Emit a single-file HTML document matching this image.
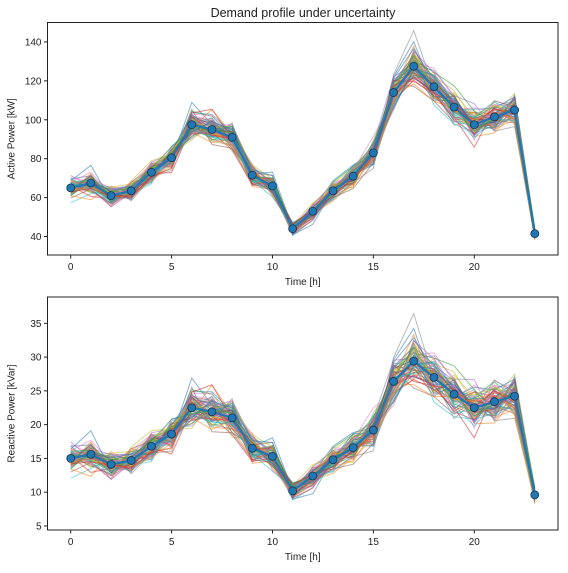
<!DOCTYPE html>
<html><head><meta charset="utf-8">
<style>
body{margin:0;background:#fff;}
svg text{font-family:"Liberation Sans","DejaVu Sans",sans-serif;fill:#222;}
</style></head>
<body>
<svg id="c" width="568" height="568" viewBox="0 0 568 568" xmlns="http://www.w3.org/2000/svg">
<text x="303" y="17" font-size="12.5" text-anchor="middle">Demand profile under uncertainty</text>
</svg>
<script>
const hours=[0,1,2,3,4,5,6,7,8,9,10,11,12,13,14,15,16,17,18,19,20,21,22,23];
const activeMean=[65,67.5,61,63.5,73,80.5,97.5,95,91,71.5,66,44,53,63.5,71,83,114,127.5,117,106.5,97.5,101.5,105,41.5];
const reactiveMean=[15,15.6,14.1,14.7,16.8,18.6,22.5,21.9,21.0,16.5,15.3,10.2,12.4,14.8,16.6,19.2,26.4,29.4,27,24.5,22.5,23.4,24.2,9.6];
const activeTicks=[40,60,80,100,120,140];
const reactiveTicks=[5,10,15,20,25,30,35];
const xTicks=[0,5,10,15,20];
const offsets=[
[0.8,0.6,-0.3,0.2,0.5,-0.4,0.7,0.9,0.3,-0.5,0.2,0.6,-0.2,0.4,0.1,-0.6,0.8,1.1,-0.3,0.2,0.5,-0.4,0.6,0.3],
[-0.6,0.2,0.5,-0.7,-0.2,0.6,-0.5,-0.3,0.8,0.4,-0.6,-0.2,0.5,-0.3,0.6,0.3,-0.4,-0.6,0.7,-0.5,-0.3,0.4,-0.2,-0.5],
[0.3,-0.8,0.2,0.6,-0.5,0.1,0.4,-0.6,-0.2,0.7,0.3,-0.5,-0.6,0.2,-0.4,0.5,0.2,0.4,-0.5,0.6,-0.2,-0.6,0.3,0.4],
[-0.2,0.5,-0.6,-0.1,0.7,-0.7,0.2,0.5,-0.5,-0.2,0.6,0.3,0.2,-0.6,0.3,-0.2,0.6,-0.3,0.2,-0.6,0.7,0.2,-0.5,-0.3],
[1.1,-0.3,0.7,0.4,-0.8,0.4,-0.8,0.2,0.6,-0.4,-0.2,0.8,-0.4,0.6,-0.7,0.7,-0.6,0.7,0.4,0.3,-0.6,0.6,0.5,0.1],
[-0.9,-0.5,-1.0,0.8,0.3,-0.3,0.9,-0.9,-0.7,0.2,0.9,-0.7,0.7,-0.5,0.5,-0.5,0.4,-0.9,-0.7,-0.8,0.3,-0.2,-0.7,0.6],
[0.5,0.9,0.1,-0.5,0.1,0.8,-0.3,0.1,0.1,0.9,-0.9,0.2,-0.8,0.8,-0.1,0.2,-0.9,0.2,0.9,0.5,-0.9,0.9,0.2,-0.6],
[-0.4,-0.1,0.8,-0.9,-0.4,-0.9,0.5,-0.4,0.9,-0.8,0.5,-0.3,0.3,-0.8,0.8,-0.8,0.9,1.6,-0.1,-0.2,0.8,-0.8,-0.9,-0.2],
[0.1,0.3,-0.8,0.9,0.9,0.3,-0.9,0.6,-0.9,0.5,-0.5,0.5,0.9,0.1,-0.9,0.9,-0.2,-0.5,0.5,0.9,0.1,0.1,0.9,0.8],
[-1.3,-0.9,0.4,-0.3,-0.9,0.5,0.1,-0.7,0.5,-0.3,0.1,-0.9,-0.9,-0.2,0.3,-0.3,0.5,0.5,-0.9,-0.9,-0.5,-0.5,-0.3,-0.8],
[0.6,1.5,-0.5,0.1,0.4,-0.2,1.3,0.3,-0.3,0.1,1.2,0.1,0.2,0.9,0.9,0.1,-0.7,-0.2,0.2,-0.1,0.9,0.5,0.7,0.5],
[-0.7,-1.4,0.9,-0.2,-0.2,0.2,-0.2,1.2,0.2,-0.9,-0.3,-0.6,-0.3,-0.9,-0.6,0.4,0.1,0.9,-0.5,0.7,-0.7,-0.9,-0.1,-0.9]
];
const colors=['#1f77b4','#ff7f0e','#2ca02c','#d62728','#9467bd','#8c564b','#e377c2','#7f7f7f','#bcbd22','#17becf'];
const NS='http://www.w3.org/2000/svg';
const svg=document.getElementById('c');
function mk(t,a,p){const e=document.createElementNS(NS,t);for(const k in a)e.setAttribute(k,a[k]);(p||svg).appendChild(e);return e;}
function panel(top,bot,yMin,yMax,mean,ticks,scale,yTitle,nm){
  const L=47.5,R=558,xMin=-1.15,xMax=24.15;
  const sx=v=>L+(v-xMin)/(xMax-xMin)*(R-L);
  const sy=v=>bot-(v-yMin)/(yMax-yMin)*(bot-top);
  const g=mk('g',{});
  
  
  for(let rep=0;rep<5;rep++){
    offsets.forEach((o,i)=>{
      const pts=hours.map((h,j)=>{const d=o[(j+rep*5)%24]*(rep%2?-1:1)*(1-rep*0.12);return sx(h)+','+sy(mean[j]*(1+d*scale)).toFixed(1);}).join(' ');
      const pl=mk('polyline',{points:pts,fill:'none',stroke:colors[(i+rep*3)%10],'stroke-width':1,'stroke-opacity':0.55},g);
      
      
    });
  }
  const ml=mk('polyline',{points:hours.map((h,j)=>sx(h)+','+sy(mean[j])).join(' '),fill:'none',stroke:'#1f77b4','stroke-width':2.2},g);
  
  
  hours.forEach((h,j)=>{
    const c=mk('circle',{cx:sx(h),cy:sy(mean[j]),r:4,fill:'#1f77b4',stroke:'#1a3550','stroke-width':0.8},g);
    
    
  });
  const fr=mk('rect',{x:L,y:top,width:R-L,height:bot-top,fill:'none',stroke:'#222','stroke-width':1},g);
  
  
  ticks.forEach(t=>{
    mk('line',{x1:L-3.5,x2:L,y1:sy(t),y2:sy(t),stroke:'#222'},g);
    const tx=mk('text',{x:L-6,y:sy(t)+3.5,'font-size':10,'text-anchor':'end'},g);tx.textContent=t;
    
    
  });
  xTicks.forEach(t=>{
    mk('line',{x1:sx(t),x2:sx(t),y1:bot,y2:bot+3.5,stroke:'#222'},g);
    const tx=mk('text',{x:sx(t),y:bot+15,'font-size':10,'text-anchor':'middle'},g);tx.textContent=t;
    
    
  });
  const xt=mk('text',{x:(L+R)/2,y:bot+30,'font-size':10,'text-anchor':'middle'},g);xt.textContent='Time [h]';
  
  
  const yt=mk('text',{x:0,y:0,'font-size':10,'text-anchor':'middle',transform:`translate(${L-33},${(top+bot)/2}) rotate(-90)`},g);yt.textContent=yTitle;
  
  
}
panel(22.5,255,30.5,150,activeMean,activeTicks,0.09,'Active Power [kW]','active');
panel(297,530,4.4,38.9,reactiveMean,reactiveTicks,0.15,'Reactive Power [kVar]','reactive');
</script>
</body></html>
